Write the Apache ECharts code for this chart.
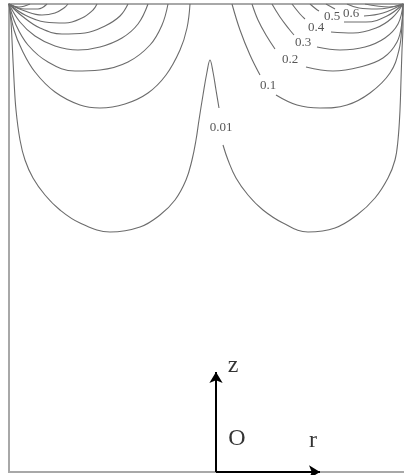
<!DOCTYPE html>
<html>
<head>
<meta charset="utf-8">
<script src="https://cdn.jsdelivr.net/npm/echarts@6/dist/echarts.min.js"></script>
<style>
  html, body { margin: 0; padding: 0; background: #fff; }
  #chart { width: 404px; height: 475px; }
</style>
</head>
<body>
<div id="chart"></div>
<script>
// Equipotential lines in the r–depth plane (r to the right, depth measured down from the top surface).
// Each contour is a list of [r, depth] points; labelled contours are split where the label sits.

const level001A = [[0,0],[2,18],[3,36],[5,76],[7,106],[11,136],[16,156],[24,174],[36,191],[51,206],[71,219],[101,228],[131,223],[151,211],[166,196],[177,176],[183,156],[187,136],[190,116],[194,91],[198,68],[201,56],[204,68],[207,86],[210,104]];
const level001B = [[214,141],[219,156],[227,174],[239,191],[254,206],[274,219],[299,228],[326,224],[348,211],[366,194],[379,174],[386,156],[389,136],[391,106],[392,76],[393,46],[394,21],[394,0]];

const level01Left = [[0,0],[5,26],[13,46],[26,68],[46,88],[71,101],[91,104],[116,100],[139,89],[157,71],[171,46],[178,24],[181,0]];
const level02Left = [[0,0],[7,21],[19,41],[39,58],[66,67],[91,66],[119,58],[141,41],[153,21],[159,0]];
const level03Left = [[0,0],[11,18],[26,32],[46,42],[69,46],[91,43],[113,34],[129,20],[139,0]];
const level04Left = [[0,0],[13,12],[31,24],[53,30],[76,29],[96,22],[111,12],[119,0]];
const level05Left = [[0,0],[16,11],[36,18],[56,19],[73,14],[84,6],[88,0]];
const level06Left = [[0,0],[16,7],[33,11],[46,9],[55,4],[59,0]];
const level07Left = [[0,0],[16,5],[29,5],[38,0]];
const level08Left = [[0,0],[10,3],[21,0]];

const level01RightA = [[223,0],[231,26],[241,51],[251,71]];
const level01RightB = [[267,91],[288,101],[311,104],[338,101],[361,89],[381,69],[390,46],[393,21],[394,0]];
const level02RightA = [[243,0],[249,16],[257,31],[266,45]];
const level02RightB = [[297,63],[324,67],[351,63],[374,54],[388,38],[393,18],[394,0]];
const level03RightA = [[263,0],[271,13],[280,25],[285,31]];
const level03RightB = [[308,43],[331,46],[356,43],[376,34],[389,20],[394,0]];
const level04RightA = [[283,0],[291,10],[296,15]];
const level04RightB = [[322,28],[344,29],[367,24],[383,14],[394,0]];
const level05RightA = [[301,0],[307,5],[310,7]];
const level05RightB = [[335,18],[357,18],[378,12],[394,0]];
const level06RightA = [[317,0],[326,5]];
const level06RightB = [[355,12],[374,9],[394,0]];
const level07Right = [[338,0],[350,4],[368,5],[394,0]];
const level08Right = [[356,0],[368,2],[380,3],[394,0]];

// contour label positions [r, depth, text]
const contourLabels = [
  [212,124,'0.01'],
  [259,82,'0.1'],
  [281,56,'0.2'],
  [294,39,'0.3'],
  [307,24,'0.4'],
  [323,13,'0.5'],
  [342,10,'0.6']
];

// coordinate indicator
const axisOrigin = [207,468];
const zArrowTip = [207,368];
const rArrowTip = [311,468];
const axisLetters = [
  [224,362,'z'],
  [228,435,'O'],
  [304,437,'r']
];

const contourLines = [
  level001A, level001B,
  level01Left, level02Left, level03Left, level04Left, level05Left, level06Left, level07Left, level08Left,
  level01RightA, level01RightB, level02RightA, level02RightB, level03RightA, level03RightB,
  level04RightA, level04RightB, level05RightA, level05RightB, level06RightA, level06RightB,
  level07Right, level08Right
];

const serif = '"Liberation Serif", "DejaVu Serif", serif';

const series = contourLines.map(pts => ({
  type: 'line',
  data: pts,
  smooth: 0.4,
  showSymbol: false,
  symbol: 'none',
  silent: true,
  lineStyle: { color: '#6c6c6c', width: 1.1 },
  z: 2
}));

series.push({
  type: 'scatter',
  data: contourLabels,
  symbolSize: 0,
  silent: true,
  label: {
    show: true,
    position: 'inside',
    formatter: p => p.value[2],
    fontFamily: serif,
    fontSize: 13,
    color: '#2a2a2a'
  },
  z: 3
});

series.push({
  type: 'scatter',
  data: axisLetters,
  symbolSize: 0,
  silent: true,
  label: {
    show: true,
    position: 'inside',
    formatter: p => p.value[2],
    fontFamily: serif,
    fontSize: 24,
    color: '#000'
  },
  z: 3
});

series.push({
  type: 'line',
  data: [],
  silent: true,
  markLine: {
    silent: true,
    symbol: ['none', 'arrow'],
    symbolSize: [10, 11],
    label: { show: false },
    lineStyle: { color: '#000', width: 2, type: 'solid' },
    data: [
      [{ coord: axisOrigin }, { coord: zArrowTip }],
      [{ coord: axisOrigin }, { coord: rArrowTip }]
    ]
  },
  z: 4
});

const chart = echarts.init(document.getElementById('chart'), null, { renderer: 'canvas' });
chart.setOption({
  animation: false,
  backgroundColor: '#fff',
  grid: {
    show: true,
    outerBoundsMode: 'none',
    left: 9, top: 4, width: 400, height: 468,
    borderColor: '#a8a8a8', borderWidth: 2,
    backgroundColor: '#fff'
  },
  xAxis: { type: 'value', min: 0, max: 400, show: false },
  yAxis: { type: 'value', min: 0, max: 468, inverse: true, show: false },
  series: series
});
</script>
</body>
</html>
